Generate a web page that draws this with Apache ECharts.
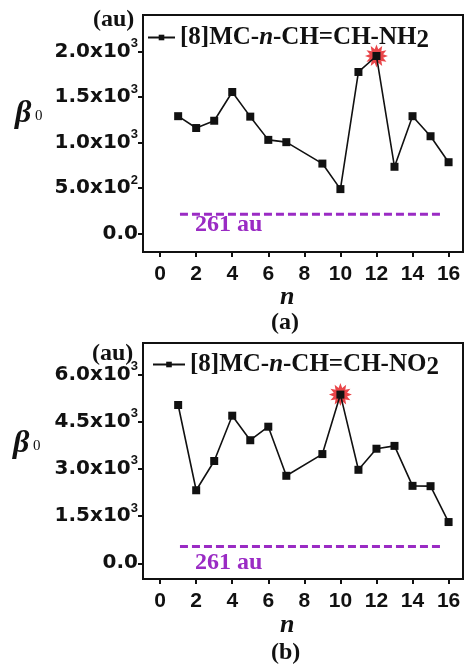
<!DOCTYPE html>
<html>
<head>
<meta charset="utf-8">
<script src="https://cdn.jsdelivr.net/npm/echarts@6/dist/echarts.min.js"></script>
<style>
  html, body { margin: 0; padding: 0; background: #fff; }
  #main { width: 465px; height: 666px; }
</style>
</head>
<body>
<div id="main"></div>
<script>
// n values (n = 8 is missing in both series)
var nValues = [1, 2, 3, 4, 5, 6, 7, 9, 10, 11, 12, 13, 14, 15, 16]
// panel (a) [8]MC-n-CH=CH-NH2
var betaNH2 = [1290, 1160, 1240, 1555, 1285, 1030, 1005, 770, 490, 1775, 1950, 735, 1290, 1070, 785]
// panel (b) [8]MC-n-CH=CH-NO2
var betaNO2 = [5030, 2320, 3250, 4690, 3910, 4340, 2780, 3470, 5360, 2970, 3640, 3730, 2460, 2450, 1310]
var nameNH2 = '[8]MC-n-CH=CH-NH2'
var nameNO2 = '[8]MC-n-CH=CH-NO2'
// highlighted maxima
var peakNH2 = [[12, 1950]]
var peakNO2 = [[10, 5360]]
// reference value line (261 au)
var refX = [1.1, 15.7]
var refNH2 = 213
var refNO2 = 530
var xTicks = [0, 2, 4, 6, 8, 10, 12, 14, 16]
var yTicksA = [0, 500, 1000, 1500, 2000]
var yTicksB = [0, 1500, 3000, 4500, 6000]

var myChart = echarts.init(document.getElementById('main'))

function pairs(xs, ys) {
  return xs.map(function (x, i) { return [x, ys[i]] })
}

function sci(v) {
  if (v === 0) return '{m|0.0}'
  var e = Math.floor(Math.log10(v) + 1e-9)
  var m = (v / Math.pow(10, e)).toFixed(1)
  return '{m|' + m + 'x10}{s|' + e + '}'
}

// 12 pointed burst used for the highlighted point
function burst(n, r0, r1) {
  var d = ''
  for (var i = 0; i < 2 * n; i++) {
    var r = i % 2 ? r1 : r0
    var a = Math.PI * i / n - Math.PI / 2
    d += (i ? 'L' : 'M') + (50 + 50 * r * Math.cos(a)).toFixed(2) + ' ' + (50 + 50 * r * Math.sin(a)).toFixed(2)
  }
  return 'path://' + d + 'Z'
}

var sans = 'Liberation Sans, Arial, sans-serif'
var wideSans = 'DejaVu Sans, Verdana, sans-serif'
var serif = 'Liberation Serif, Times New Roman, serif'
var purple = '#9a2bc4'

function xAxisOf(idx) {
  return {
    gridIndex: idx,
    type: 'value',
    min: -0.95,
    max: 16.8,
    splitLine: { show: false },
    axisLine: { onZero: false, lineStyle: { color: '#111', width: 2 } },
    axisTick: { customValues: xTicks, length: 5, lineStyle: { color: '#111', width: 2 } },
    axisLabel: {
      customValues: xTicks,
      margin: 12,
      color: '#111',
      fontSize: 21,
      fontWeight: 'bold',
      fontFamily: sans
    }
  }
}

function yAxisOf(idx, min, max, ticks) {
  return {
    gridIndex: idx,
    type: 'value',
    min: min,
    max: max,
    splitLine: { show: false },
    axisLine: { show: true, onZero: false, lineStyle: { color: '#111', width: 2 } },
    axisTick: { customValues: ticks, length: 5, lineStyle: { color: '#111', width: 2 } },
    axisLabel: {
      customValues: ticks,
      margin: 5,
      formatter: sci,
      rich: {
        m: { fontSize: 20, fontWeight: 'bold', fontFamily: wideSans, color: '#111' },
        s: { fontSize: 13, fontWeight: 'bold', fontFamily: sans, color: '#111', verticalAlign: 'top', padding: [0, 0, 16, 0] }
      }
    }
  }
}

function legendLabel(name) {
  var parts = name.split('-n-')
  var tail = parts[1]
  return '{t|' + parts[0] + '-}{i|n}{t|-' + tail.slice(0, -1) + '}{u|' + tail.slice(-1) + '}'
}

function legendOf(idx, name, left, top, w) {
  return {
    data: [name],
    left: left,
    top: top,
    padding: 0,
    itemWidth: w,
    itemHeight: 7,
    itemGap: 5,
    formatter: legendLabel,
    textStyle: {
      rich: {
        t: { fontSize: 25, fontWeight: 'bold', fontFamily: serif, color: '#111' },
        i: { fontSize: 25, fontWeight: 'bold', fontStyle: 'italic', fontFamily: serif, color: '#111' },
        u: { fontSize: 25, fontWeight: 'bold', fontFamily: serif, color: '#111', padding: [6, 0, 0, 0] }
      }
    }
  }
}

function mainSeries(idx, name, ys) {
  return {
    name: name,
    type: 'line',
    xAxisIndex: idx,
    yAxisIndex: idx,
    data: pairs(nValues, ys),
    symbol: 'rect',
    symbolSize: 8,
    z: 3,
    lineStyle: { color: '#111', width: 1.6 },
    itemStyle: { color: '#111' }
  }
}

function peakSeries(idx, data) {
  return {
    type: 'scatter',
    xAxisIndex: idx,
    yAxisIndex: idx,
    data: data,
    symbol: burst(12, 1, 0.6),
    symbolSize: 23,
    z: 2,
    silent: true,
    itemStyle: { color: '#e4161c' }
  }
}

function refSeries(idx, v) {
  return {
    type: 'line',
    xAxisIndex: idx,
    yAxisIndex: idx,
    data: [[refX[0], v], [refX[1], v]],
    symbol: 'none',
    silent: true,
    lineStyle: { color: purple, width: 3, type: [8, 4] }
  }
}

function textEl(left, top, text, style) {
  return { type: 'text', left: left, top: top, style: Object.assign({ text: text, fill: '#111', font: 'bold 21px ' + serif }, style || {}) }
}

var option = {
  animation: false,
  grid: [
    { left: 143, top: 15, width: 320, height: 237, show: true, borderColor: '#111', borderWidth: 2 },
    { left: 143, top: 343, width: 320, height: 236, show: true, borderColor: '#111', borderWidth: 2 }
  ],
  xAxis: [xAxisOf(0), xAxisOf(1)],
  yAxis: [yAxisOf(0, -200, 2400, yTicksA), yAxisOf(1, -500, 7000, yTicksB)],
  legend: [legendOf(0, nameNH2, 147, 25, 27), legendOf(1, nameNO2, 152, 352, 32)],
  series: [
    refSeries(0, refNH2),
    refSeries(1, refNO2),
    peakSeries(0, peakNH2),
    peakSeries(1, peakNO2),
    mainSeries(0, nameNH2, betaNH2),
    mainSeries(1, nameNO2, betaNO2)
  ],
  graphic: [
    textEl(93, 8, '(au)', { font: 'bold 24px ' + serif }),
    textEl(92, 342, '(au)', { font: 'bold 24px ' + serif }),
    textEl(15, 98, '\u03b2', { font: 'italic bold 32px ' + serif }),
    textEl(35, 109, '0', { font: '15px ' + serif }),
    textEl(13, 428, '\u03b2', { font: 'italic bold 32px ' + serif }),
    textEl(33, 439, '0', { font: '15px ' + serif }),
    textEl(195, 213, '261 au', { fill: purple, font: 'bold 24px ' + serif }),
    textEl(195, 551, '261 au', { fill: purple, font: 'bold 24px ' + serif }),
    textEl(280, 284, 'n', { font: 'italic bold 26px ' + serif }),
    textEl(271, 311, '(a)', { font: 'bold 24px ' + serif }),
    textEl(280, 612, 'n', { font: 'italic bold 26px ' + serif }),
    textEl(271, 641, '(b)', { font: 'bold 24px ' + serif })
  ]
}

myChart.setOption(option)
window.addEventListener('resize', function () {
  myChart.resize()
})
</script>
</body>
</html>
